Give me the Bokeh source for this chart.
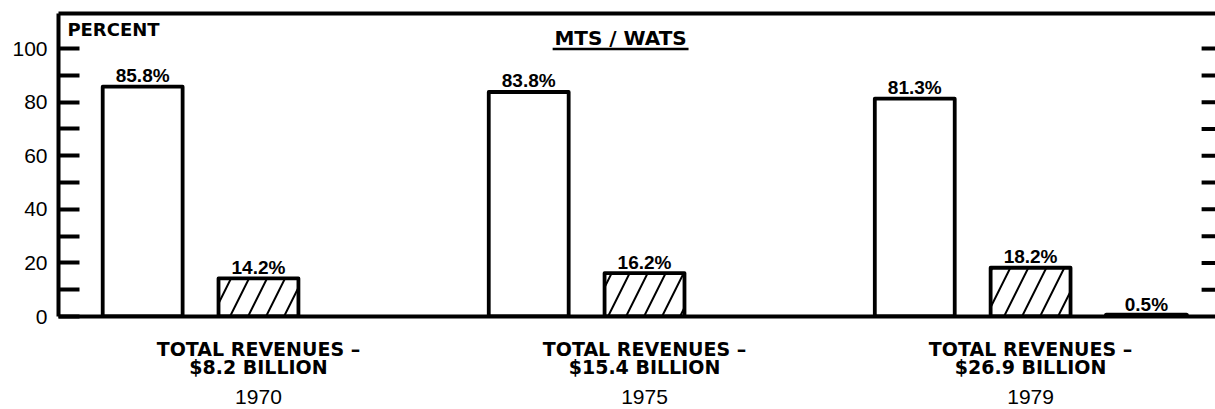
import numpy as np
from bokeh.plotting import figure
from bokeh.models import ColumnDataSource, Range1d, LinearAxis, FixedTicker, Label
from bokeh.core.properties import value
from bokeh.embed import file_html
from bokeh.resources import INLINE

# ---- data ----
years = ["1970", "1975", "1979"]
mts = [85.8, 83.8, 81.3]
wats = [14.2, 16.2, 18.2]
other_years = ["1979"]
other = [0.5]
revenues = ["$8.2 BILLION", "$15.4 BILLION", "$26.9 BILLION"]
rev_prefix = "TOTAL REVENUES \u2013"
y_ticks = [0, 20, 40, 60, 80, 100]
y_minor = [10, 30, 50, 70, 90]
title_text = "MTS / WATS"
unit_text = "PERCENT"

# ---- layout helpers ----
group_x = np.arange(len(years))
slot = 0.30
bar_w = 0.207
year_index = {y: i for i, y in enumerate(years)}
x_start, x_end = -0.518, 2.479

p = figure(width=1215, height=409, output_backend="svg", toolbar_location=None,
           x_range=Range1d(x_start, x_end), y_range=Range1d(0, 113.1),
           x_axis_type=None, y_axis_type=None,
           min_border_left=58, min_border_right=0, min_border_top=13, min_border_bottom=93)
p.outline_line_color = None
p.background_fill_color = "white"
p.border_fill_color = "white"

# ---- axes ----
yax = LinearAxis(ticker=FixedTicker(ticks=y_ticks, minor_ticks=y_minor))
yax.axis_line_width = 4
yax.axis_line_color = "black"
yax.major_tick_in = 21
yax.major_tick_out = 0
yax.major_tick_line_width = 4
yax.minor_tick_in = 21
yax.minor_tick_out = 0
yax.minor_tick_line_width = 4
yax.major_label_text_font = "Liberation Sans"
yax.major_label_text_font_size = "21px"
yax.major_label_text_color = "black"
yax.major_label_standoff = 11
p.add_layout(yax, "left")

# right-hand tick marks (every 10 %), drawn inward from the frame edge
right_ticks = sorted(y_ticks[1:] + y_minor)
p.segment(x0=[x_end] * len(right_ticks), y0=right_ticks,
          x1=[x_end - 0.036] * len(right_ticks), y1=right_ticks,
          line_color="black", line_width=4)

tax = LinearAxis(ticker=FixedTicker(ticks=[]))
tax.axis_line_width = 4
tax.major_tick_in = 0
tax.major_tick_out = 0
tax.minor_tick_line_color = None
tax.major_label_standoff = 0
p.add_layout(tax, "above")

ax1 = LinearAxis(ticker=FixedTicker(ticks=list(map(int, group_x))))
ax1.major_label_overrides = {int(g): f"{rev_prefix}\n{r}" for g, r in zip(group_x, revenues)}
ax1.axis_line_width = 4
ax1.major_tick_in = 0
ax1.major_tick_out = 0
ax1.minor_tick_line_color = None
ax1.major_label_text_font = "DejaVu Sans"
ax1.major_label_text_font_style = "bold"
ax1.major_label_text_font_size = "19px"
ax1.major_label_text_line_height = 0.86
ax1.major_label_text_color = "black"
ax1.major_label_standoff = 21
p.add_layout(ax1, "below")

ax2 = LinearAxis(ticker=FixedTicker(ticks=list(map(int, group_x))))
ax2.major_label_overrides = {int(g): y for g, y in zip(group_x, years)}
ax2.axis_line_color = None
ax2.major_tick_in = 0
ax2.major_tick_out = 0
ax2.minor_tick_line_color = None
ax2.major_label_text_font = "Liberation Sans"
ax2.major_label_text_font_size = "21px"
ax2.major_label_text_color = "black"
ax2.major_label_standoff = 8
p.add_layout(ax2, "below")

# ---- bars ----
src_m = ColumnDataSource(dict(x=group_x - slot, top=mts, label=[f"{v}%" for v in mts]))
src_w = ColumnDataSource(dict(x=group_x + 0.0, top=wats, label=[f"{v}%" for v in wats]))
src_o = ColumnDataSource(dict(x=[year_index[y] + slot for y in other_years], top=other,
                              label=[f"{v}%" for v in other]))

p.vbar(x="x", top="top", bottom=0, width=bar_w, source=src_m, fill_color="white",
       line_color="black", line_width=3.8, line_join="round")
p.vbar(x="x", top="top", bottom=0, width=bar_w, source=src_w, fill_color="white",
       hatch_pattern="/", hatch_color="black", hatch_weight=2, hatch_scale=36,
       line_color="black", line_width=3.8, line_join="round")
p.vbar(x="x", top="top", bottom=0, width=bar_w, source=src_o, fill_color="black",
       line_color="black", line_width=5, line_join="round")

for src in (src_m, src_w, src_o):
    p.text(x="x", y="top", text="label", source=src, text_align="center",
           text_baseline="alphabetic", y_offset=-11,
           text_font=value("Liberation Sans"), text_font_style="bold",
           text_font_size="19px", text_color="black")

# ---- in-frame titles ----
p.add_layout(Label(x=-0.495, y=107.1, text=unit_text, text_font="DejaVu Sans",
                   text_font_style="bold", text_font_size="18px", text_color="black",
                   text_align="left", text_baseline="alphabetic"))
p.add_layout(Label(x=0.938, y=103.8, text=title_text, text_font="DejaVu Sans",
                   text_font_style="bold", text_font_size="20px", text_color="black",
                   text_align="center", text_baseline="alphabetic"))
p.segment(x0=0.762, y0=99.85, x1=1.114, y1=99.85, line_color="black", line_width=2.5)

open("out.html", "w").write(file_html(p, INLINE))
